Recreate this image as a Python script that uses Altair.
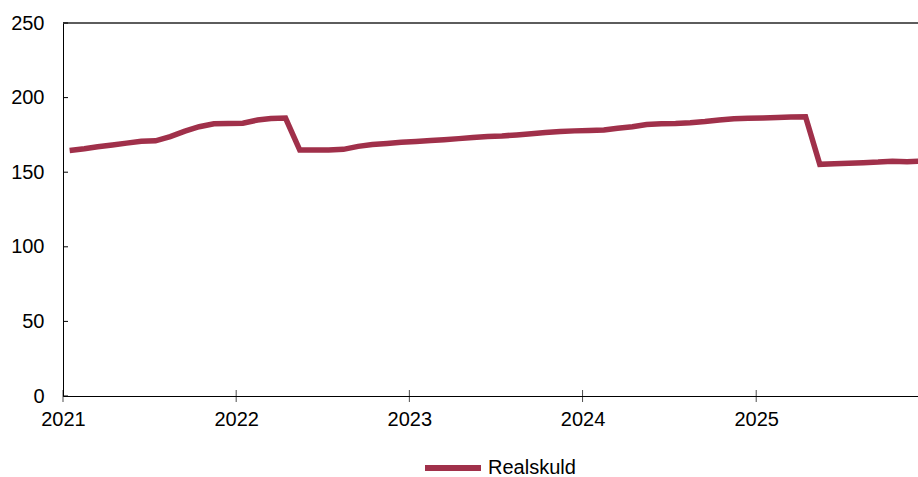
import altair as alt
import pandas as pd

# Monthly values, Jan 2021 .. Dec 2025
values = [164.5, 165.7, 167.0, 168.2, 169.5, 170.8, 171.0, 173.8, 177.5, 180.5, 182.5, 182.6,
          182.8, 185.0, 186.0, 186.3, 164.8, 164.8, 164.9, 165.3, 167.3, 168.5, 169.3, 170.0,
          170.6, 171.2, 171.8, 172.5, 173.3, 174.0, 174.3, 175.0, 175.8, 176.6, 177.2, 177.7,
          178.0, 178.3, 179.5, 180.5, 182.0, 182.5, 182.7, 183.2, 184.0, 185.0, 185.8, 186.2,
          186.3, 186.6, 187.0, 187.2, 155.3, 155.7, 156.0, 156.4, 156.8, 157.4, 157.0, 157.5]
months = pd.date_range("2021-01-01", periods=len(values), freq="MS") + pd.Timedelta(days=14)
series_name = ["Realskuld"]
year_ticks = ["2021-01-01", "2022-01-01", "2023-01-01", "2024-01-01", "2025-01-01"]
y_ticks = [0, 50, 100, 150, 200, 250]

df = pd.DataFrame({"date": [d.strftime("%Y-%m-%d") for d in months],
                   "value": values,
                   "series": series_name * len(values)})
df_xt = pd.DataFrame({"date": year_ticks})
df_yt = pd.DataFrame({"v": y_ticks})

FONT = "Liberation Sans"
COLOR = "#A0304A"

xscale = alt.Scale(type="utc",
                   domain=[alt.DateTime(year=2021, month=1, date=1, utc=True),
                           alt.DateTime(year=2025, month=12, date=8, utc=True)])
yscale = alt.Scale(domain=[0, 250], nice=False)

xaxis = alt.Axis(title=None, format="%Y", labelFontSize=20, labelFont=FONT, labelColor="black",
                 ticks=False, grid=False, domainColor="black", labelPadding=13,
                 values=[alt.DateTime(year=y, month=1, date=1, utc=True) for y in range(2021, 2026)],
                 labelOverlap=False, labelFlush=False)
yaxis = alt.Axis(title=None, values=y_ticks, labelFontSize=20, labelFont=FONT, labelColor="black",
                 ticks=False, grid=False, domainColor="black", labelPadding=19)

line = alt.Chart(df).mark_line(strokeWidth=5.5, clip=True).encode(
    x=alt.X("date:T", scale=xscale, axis=xaxis),
    y=alt.Y("value:Q", scale=yscale, axis=yaxis),
    color=alt.Color("series:N", scale=alt.Scale(range=[COLOR]),
                    legend=alt.Legend(title=None, orient="none", legendX=359, legendY=414,
                                      symbolType="stroke", symbolSize=3136, symbolStrokeWidth=6,
                                      labelFontSize=20, labelFont=FONT, labelColor="black",
                                      labelOffset=4, padding=0)),
)

top = alt.Chart(df_xt).mark_rule(color="#595959", strokeWidth=1).encode(y=alt.datum(250))

xt = alt.Chart(df_xt).mark_tick(orient="vertical", size=12, thickness=1, color="black").encode(
    x=alt.X("date:T"), y=alt.datum(0))

yt = alt.Chart(df_yt).mark_rule(color="black", strokeWidth=1).encode(
    y=alt.Y("v:Q"), x=alt.value(0), x2=alt.value(5))

chart = alt.layer(line, top, xt, yt).properties(
    width=855, height=373,
    autosize=alt.AutoSizeParams(type="none"),
    padding={"left": 63, "top": 23, "right": 0, "bottom": 81},
).configure_view(stroke=None).configure(background="white")

chart.save("out.html", embed_options={"renderer": "svg", "actions": False})
